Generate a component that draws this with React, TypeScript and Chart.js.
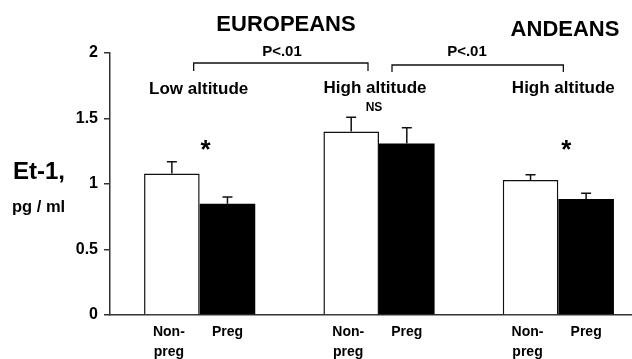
import React, { useEffect, useRef } from "react";
import { Chart, registerables } from "chart.js";

Chart.register(...registerables);

const groups = ["Europeans low altitude", "Europeans high altitude", "Andeans high altitude"];
const nonPregValues = [1.08, 1.40, 1.03];
const pregValues = [0.85, 1.31, 0.885];
const nonPregErrTop = [1.17, 1.51, 1.07];
const pregErrTop = [0.90, 1.43, 0.93];
const groupLabels = ["Low altitude", "High altitude", "High altitude"];
const yTicks = [0, 0.5, 1, 1.5, 2];

const FONT = "'Liberation Sans', Arial, Helvetica, sans-serif";

const annotate = {
  id: "annotate",
  afterDatasetsDraw(chart: any) {
    const ctx = chart.ctx;
    const xs = chart.scales.x;
    const ys = chart.scales.y;
    const errs = [nonPregErrTop, pregErrTop];
    ctx.save();
    ctx.strokeStyle = "#111";
    ctx.lineWidth = 1.5;
    // error bars
    [0, 1].forEach((di) => {
      const meta = chart.getDatasetMeta(di);
      meta.data.forEach((bar: any, i: number) => {
        const yTop = ys.getPixelForValue(errs[di][i]);
        ctx.beginPath();
        ctx.moveTo(bar.x, bar.y);
        ctx.lineTo(bar.x, yTop);
        ctx.moveTo(bar.x - 5, yTop);
        ctx.lineTo(bar.x + 5, yTop);
        ctx.stroke();
      });
    });
    ctx.fillStyle = "#000";
    ctx.textAlign = "center";
    ctx.textBaseline = "middle";
    // bar labels
    const m0 = chart.getDatasetMeta(0);
    const m1 = chart.getDatasetMeta(1);
    ctx.font = `bold 14px ${FONT}`;
    m0.data.forEach((bar: any) => {
      ctx.fillText("Non-", bar.x - 3, 332);
      ctx.fillText("preg", bar.x - 3, 352);
    });
    m1.data.forEach((bar: any) => {
      ctx.fillText("Preg", bar.x, 332);
    });
    const c = [0, 1, 2].map((i) => xs.getPixelForValue(i));
    // group labels
    ctx.font = `bold 17px ${FONT}`;
    ctx.fillText(groupLabels[0], c[0] - 1, 89);
    ctx.fillText(groupLabels[1], c[1] - 4, 88);
    ctx.fillText(groupLabels[2], c[2] + 5, 88);
    // titles
    ctx.font = `bold 22px ${FONT}`;
    ctx.fillText("EUROPEANS", 286, 25);
    ctx.fillText("ANDEANS", 565, 30);
    // p values
    ctx.font = `bold 15px ${FONT}`;
    ctx.fillText("P<.01", 282, 52);
    ctx.fillText("P<.01", 467, 52);
    // brackets
    ctx.lineWidth = 1.3;
    ctx.beginPath();
    ctx.moveTo(c[0] - 6, 71);
    ctx.lineTo(c[0] - 6, 63);
    ctx.lineTo(c[1] - 11, 63);
    ctx.lineTo(c[1] - 11, 71);
    ctx.moveTo(c[1] + 13, 72);
    ctx.lineTo(c[1] + 13, 65);
    ctx.lineTo(c[2] + 5, 65);
    ctx.lineTo(c[2] + 5, 72);
    ctx.stroke();
    // NS
    ctx.font = `bold 12px ${FONT}`;
    ctx.fillText("NS", c[1] - 5, 108);
    // asterisks
    ctx.font = `bold 26px ${FONT}`;
    ctx.fillText("*", c[0] + 6, 151);
    ctx.fillText("*", c[2] + 8, 151);
    // y title
    ctx.textAlign = "left";
    ctx.font = `bold 24px ${FONT}`;
    ctx.fillText("Et-1,", 13, 172);
    ctx.font = `bold 16.5px ${FONT}`;
    ctx.fillText("pg / ml", 12, 207);
    ctx.restore();
  },
};

export default function App() {
  const ref = useRef<HTMLCanvasElement>(null);
  useEffect(() => {
    document.documentElement.style.overflow = "hidden";
    const chart = new Chart(ref.current!, {
      type: "bar",
      data: {
        labels: groups,
        datasets: [
          {
            label: "Non-preg",
            data: nonPregValues,
            backgroundColor: "#ffffff",
            borderColor: "#111",
            borderWidth: 1.5,
          },
          {
            label: "Preg",
            data: pregValues,
            backgroundColor: "#000000",
            borderWidth: 0,
          },
        ],
      },
      options: {
        animation: false,
        responsive: false,
        maintainAspectRatio: false,
        layout: { padding: { left: 0, right: 0, top: 53, bottom: 44 } },
        plugins: { legend: { display: false }, tooltip: { enabled: false }, title: { display: false } },
        datasets: { bar: { categoryPercentage: 0.62, barPercentage: 1 } },
        scales: {
          x: {
            type: "category",
            grid: { display: false, drawTicks: false },
            ticks: { display: false },
            border: { display: true, color: "#333", width: 1.5 },
          },
          y: {
            type: "linear",
            min: 0,
            max: 2,
            afterBuildTicks: (scale: any) => {
              scale.ticks = yTicks.map((v) => ({ value: v }));
            },
            afterFit: (scale: any) => {
              scale.width = 110;
            },
            grid: { display: true, drawOnChartArea: false, drawTicks: true, tickLength: 6, color: "#333", lineWidth: 1.5 },
            border: { display: true, color: "#333", width: 1.5 },
            ticks: {
              padding: 6,
              color: "#000",
              font: { family: FONT, size: 16, weight: "bold" },
              callback: (v: any) => String(v),
            },
          },
        },
      },
      plugins: [annotate],
    });
    return () => chart.destroy();
  }, []);
  return (
    <div style={{ position: "fixed", left: 0, top: 0, width: 632, height: 359, overflow: "hidden", background: "#fff" }}>
      <canvas ref={ref} width={648} height={359} style={{ width: 648, height: 359, display: "block" }} />
    </div>
  );
}
